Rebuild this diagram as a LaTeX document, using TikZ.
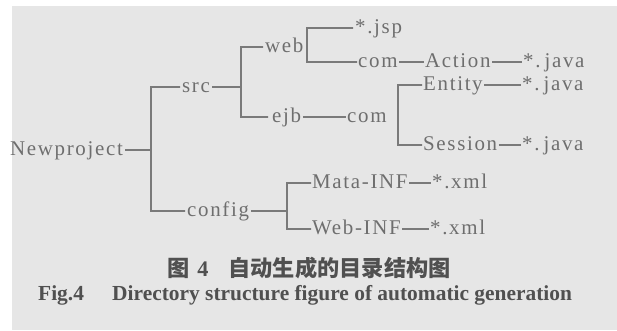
\documentclass[tikz,border=0pt]{standalone}
\usepackage{fontspec}
\setmainfont{Liberation Serif}
\newfontfamily\treefont[LetterSpace=8]{Liberation Serif}
\newfontfamily\cjkfont{Noto Sans CJK SC}
\definecolor{bg}{HTML}{E6E6E6}
\definecolor{txtgray}{HTML}{6E6E6E}
\definecolor{lngray}{HTML}{7A7A7A}
\definecolor{capgray}{HTML}{505050}
\newcommand\myconn[2]{\draw[ln] ([shift={(1.5bp,5bp)}]#1.base east) -- ([shift={(-1.5bp,5bp)}]#2.base west);}
\begin{document}
\begin{tikzpicture}[x=1bp,y=-1bp,
  lbl/.style={anchor=base west, inner sep=0pt, text=txtgray, font=\treefont\fontsize{21}{21}\selectfont},
  ln/.style={draw=lngray, line width=1.8bp},
  captxt/.style={anchor=west, inner sep=0pt, text=capgray}]
\fill[white] (0,0) rectangle (617,330);
\fill[bg] (12,6) rectangle (617,330);
\useasboundingbox (0,0) rectangle (617,330);
% nodes
\node[lbl] (np) at (10,155) {Newproject};
\node[lbl] (src) at (182,92) {src};
\node[lbl] (web) at (265,52) {web};
\node[lbl] (jsp) at (355,33) {*.jsp};
\node[lbl] (com1) at (358,67) {com};
\node[lbl] (act) at (425,67) {Action};
\node[lbl] (j1) at (523,67) {*.\hspace{4bp}java};
\node[lbl] (ejb) at (272,122) {ejb};
\node[lbl] (com2) at (347,122) {com};
\node[lbl] (ent) at (423,90) {Entity};
\node[lbl] (j2) at (522,90) {*.\hspace{4bp}java};
\node[lbl] (ses) at (423,150) {Session};
\node[lbl] (j3) at (522,150) {*.\hspace{4bp}java};
\node[lbl] (cfg) at (187,216) {config};
\node[lbl] (mata) at (312,188) {Mata-INF};
\node[lbl] (x1) at (432,188) {*.xml};
\node[lbl] (wi) at (312,234) {Web-INF};
\node[lbl] (x2) at (430,234) {*.xml};
% junctions
\coordinate (v0t) at (151,87);
\coordinate (v0m) at (151,150);
\coordinate (v0b) at (151,211);
\coordinate (v1t) at (241,47);
\coordinate (v1m) at (241,87);
\coordinate (v1b) at (241,117);
\coordinate (v2t) at (307,28);
\coordinate (v2b) at (307,62);
\coordinate (v3t) at (398,85);
\coordinate (v3b) at (398,145);
\coordinate (v4t) at (287,183);
\coordinate (v4m) at (287,211);
\coordinate (v4b) at (287,229);
% connectors
\draw[ln] ([shift={(2bp,5bp)}]np.base east) -- (v0m);
\draw[ln] ([shift={(-2bp,5bp)}]src.base west) -- (v0t) -- (v0b) -- ([shift={(-2bp,5bp)}]cfg.base west);
\draw[ln] ([shift={(2bp,5bp)}]src.base east) -- (v1m);
\draw[ln] ([shift={(-2bp,5bp)}]web.base west) -- (v1t) -- (v1b) -- ([shift={(-4bp,5bp)}]ejb.base west);
\draw[ln] ([shift={(-2bp,5bp)}]jsp.base west) -- (v2t) -- (v2b) -- ([shift={(-1bp,5bp)}]com1.base west);
\myconn{com1}{act}
\myconn{act}{j1}
\myconn{ejb}{com2}
\draw[ln] ([shift={(-1bp,5bp)}]ent.base west) -- (v3t) -- (v3b) -- ([shift={(-1bp,5bp)}]ses.base west);
\myconn{ent}{j2}
\myconn{ses}{j3}
\draw[ln] ([shift={(2bp,5bp)}]cfg.base east) -- (v4m);
\draw[ln] ([shift={(-1bp,5bp)}]mata.base west) -- (v4t) -- (v4b) -- ([shift={(-1bp,5bp)}]wi.base west);
\myconn{mata}{x1}
\myconn{wi}{x2}
% captions
\node[captxt, font=\fontsize{22.3}{22.3}\selectfont] (cap1) at (167,268)
  {\cjkfont\bfseries 图\hspace{8bp}{\rmfamily 4}\hspace{20bp}自动生成的目录结构图};
\node[captxt, font=\bfseries\fontsize{21.5}{21.5}\selectfont] (cap2) at (38,295)
  {\makebox[74bp][l]{Fig.4}Directory structure figure of automatic generation};
\end{tikzpicture}
\end{document}
